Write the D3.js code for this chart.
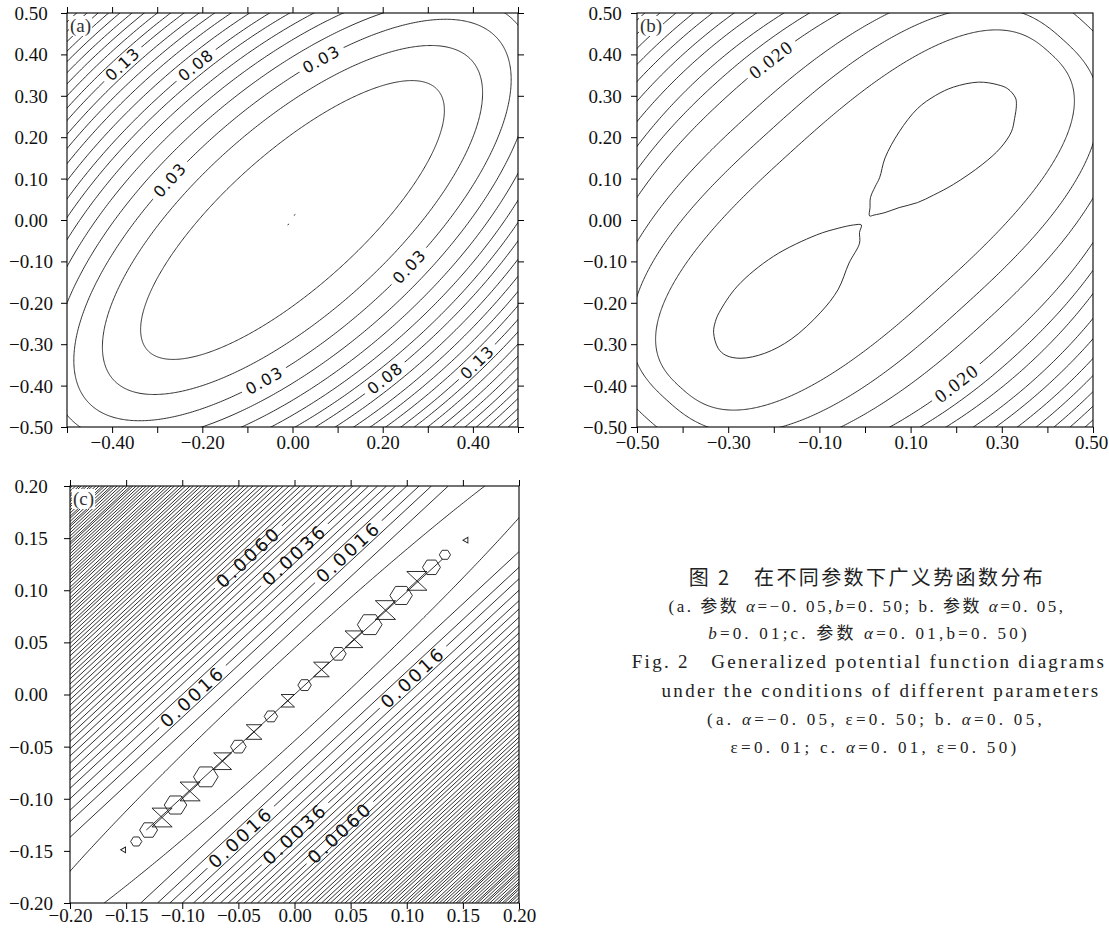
<!DOCTYPE html>
<html>
<head>
<meta charset="utf-8">
<script src="https://cdnjs.cloudflare.com/ajax/libs/d3/7.8.5/d3.min.js"></script>
<style>
  body { margin: 0; background: #fff; }
  svg { display: block; }
</style>
</head>
<body>
<svg id="fig" width="1109" height="934"></svg>
<script>
// ---------- panel (a): alpha = -0.05, eps = 0.50 ----------
const ticksA = [-0.5, -0.4, -0.3, -0.2, -0.1, 0, 0.1, 0.2, 0.3, 0.4, 0.5];
const xLabelsA = [-0.4, -0.2, 0, 0.2, 0.4];
const yLabelsA = ticksA;
// contour levels and the half-widths of each ring, along y = x and across it
const levelsA = [0.01, 0.02, 0.03, 0.04, 0.05, 0.06, 0.07, 0.08, 0.09, 0.10, 0.11,
                 0.12, 0.13, 0.14, 0.15, 0.16, 0.17, 0.18, 0.19, 0.20, 0.21, 0.22];
const majorA = [0.450, 0.554, 0.632, 0.688, 0.735, 0.777, 0.815, 0.848, 0.878, 0.906, 0.932,
                0.956, 0.979, 1.000, 1.021, 1.041, 1.060, 1.078, 1.095, 1.112, 1.128, 1.144];
const minorA = [0.156, 0.220, 0.266, 0.305, 0.339, 0.369, 0.396, 0.420, 0.445, 0.469, 0.491,
                0.512, 0.533, 0.552, 0.571, 0.590, 0.608, 0.626, 0.643, 0.659, 0.676, 0.692];
const labelsA = [
  { text: "0.13", level: 0.13, x: -0.377, y: 0.377 },
  { text: "0.08", level: 0.08, x: -0.214, y: 0.374 },
  { text: "0.03", level: 0.03, x: 0.065, y: 0.386 },
  { text: "0.03", level: 0.03, x: -0.272, y: 0.097 },
  { text: "0.03", level: 0.03, x: 0.256, y: -0.109 },
  { text: "0.03", level: 0.03, x: -0.066, y: -0.381 },
  { text: "0.08", level: 0.08, x: 0.205, y: -0.382 },
  { text: "0.13", level: 0.13, x: 0.394, y: -0.326 }
];
const specksA = [[0.003, 0.011], [-0.011, -0.012]];

// ---------- panel (b): alpha = 0.05, eps = 0.01 ----------
const ticksB = [-0.5, -0.4, -0.3, -0.2, -0.1, 0, 0.1, 0.2, 0.3, 0.4, 0.5];
const xLabelsB = [-0.5, -0.3, -0.1, 0.1, 0.3, 0.5];
const yLabelsB = ticksB;
const levelsB = [0.008, 0.012, 0.016, 0.020, 0.024, 0.028, 0.032, 0.036, 0.040, 0.044, 0.048, 0.052, 0.056];
const majorB = [0.572, 0.615, 0.677, 0.720, 0.760, 0.800, 0.835, 0.870, 0.905, 0.940, 0.970, 1.000, 1.030];
const minorB = [0.231, 0.300, 0.360, 0.425, 0.465, 0.500, 0.535, 0.565, 0.595, 0.622, 0.648, 0.672, 0.695];
// squareness of each ring (2 = plain ellipse)
const shapeB = [2.6, 2.6, 2.4, 2.2, 2.1, 2.0, 2.0, 2.0, 2.0, 2.0, 2.0, 2.0, 2.0];
// lowest contour: two lobes meeting near the origin
const lobeUpB = [[0.010, 0.010], [0.011, 0.030], [0.012, 0.054], [0.022, 0.080], [0.032, 0.102],
  [0.044, 0.150], [0.075, 0.213], [0.115, 0.269], [0.155, 0.301], [0.194, 0.321], [0.249, 0.333],
  [0.290, 0.327], [0.313, 0.317], [0.330, 0.295], [0.332, 0.277], [0.328, 0.245], [0.321, 0.213],
  [0.297, 0.174], [0.257, 0.134], [0.194, 0.086], [0.150, 0.060], [0.115, 0.042], [0.075, 0.030],
  [0.044, 0.018], [0.020, 0.012]];
const lobeDownB = [[-0.008, -0.012], [-0.012, -0.030], [-0.012, -0.056], [-0.035, -0.104],
  [-0.059, -0.168], [-0.098, -0.224], [-0.162, -0.288], [-0.220, -0.322], [-0.272, -0.334],
  [-0.305, -0.327], [-0.322, -0.310], [-0.332, -0.272], [-0.328, -0.245], [-0.320, -0.224],
  [-0.280, -0.160], [-0.201, -0.088], [-0.106, -0.036], [-0.059, -0.020], [-0.025, -0.012]];
const labelsB = [
  { text: "0.020", level: 0.020, x: -0.209, y: 0.392 },
  { text: "0.020", level: 0.020, x: 0.202, y: -0.396 }
];

// ---------- panel (c): alpha = 0.01, eps = 0.50 ----------
const ticksC = [-0.2, -0.15, -0.1, -0.05, 0, 0.05, 0.1, 0.15, 0.2];
const xLabelsC = ticksC;
const yLabelsC = ticksC;
const ringC = { level: 0.0004, a: 0.357, b: 0.0316 };
const stepC = 0.0004;
// distance y - x of each straight contour, from 0.0008 upward
const offsetsC = [0.063, 0.078, 0.089, 0.100, 0.110, 0.118, 0.126, 0.134, 0.141, 0.148, 0.155,
  0.161, 0.167, 0.173, 0.179, 0.184, 0.190, 0.195, 0.200, 0.205, 0.210, 0.215, 0.219, 0.224,
  0.228, 0.232, 0.237, 0.241, 0.245, 0.249, 0.253, 0.257, 0.261, 0.265, 0.268, 0.272, 0.276,
  0.279, 0.283, 0.286, 0.290, 0.293, 0.297, 0.300, 0.303, 0.307, 0.310, 0.313, 0.316, 0.319,
  0.323, 0.326, 0.329, 0.332, 0.335, 0.338, 0.341, 0.344, 0.346, 0.349, 0.352, 0.355, 0.358,
  0.361, 0.363, 0.366, 0.369, 0.371, 0.374, 0.377, 0.380, 0.382, 0.385, 0.387, 0.390, 0.392,
  0.395, 0.398];
const labelsC = [
  { text: "0.0060", level: 0.0060, x: -0.041, y: 0.132 },
  { text: "0.0036", level: 0.0036, x: 0.000, y: 0.134 },
  { text: "0.0016", level: 0.0016, x: 0.048, y: 0.137 },
  { text: "0.0016", level: 0.0016, x: -0.096, y: 0.004 },
  { text: "0.0016", level: 0.0016, x: 0.106, y: 0.016 },
  { text: "0.0016", level: 0.0016, x: -0.047, y: -0.138 },
  { text: "0.0036", level: 0.0036, x: 0.000, y: -0.133 },
  { text: "0.0060", level: 0.0060, x: 0.041, y: -0.133 }
];
// numerical ripple along the diagonal
const chainT = [-0.141, -0.130, -0.118, -0.106, -0.093, -0.079, -0.064, -0.050, -0.036, -0.021,
  -0.006, 0.009, 0.024, 0.039, 0.053, 0.067, 0.081, 0.095, 0.109, 0.122, 0.134];
const chainR = [0.005, 0.008, 0.009, 0.010, 0.009, 0.011, 0.008, 0.007, 0.007, 0.006,
  0.006, 0.006, 0.007, 0.007, 0.008, 0.011, 0.009, 0.010, 0.009, 0.008, 0.005];
const chainKind = ["h", "h", "b", "h", "b", "h", "b", "h", "b", "h",
  "b", "h", "b", "h", "b", "h", "b", "h", "b", "h", "h"];
const chainLine = [[-0.132, -0.130], [0.132, 0.130]];
const marksC = [[-0.152, -0.149], [0.153, 0.148]];

// ---------- caption ----------
const serifCJK = "'Liberation Serif', 'Noto Sans CJK SC', serif";
const captionLines = [
  { x: 867, y: 585, size: 20, family: "'Noto Sans CJK SC', sans-serif", spacing: 2.4,
    parts: [["图 2　在不同参数下广义势函数分布", false]] },
  { x: 867, y: 612, size: 17, family: serifCJK, spacing: 2.5,
    parts: [["(a. 参数 ", false], ["α", true], ["=−0. 05,", false], ["b", true], ["=0. 50; b. 参数 ", false], ["α", true], ["=0. 05,", false]] },
  { x: 869, y: 639, size: 17, family: serifCJK, spacing: 3.2,
    parts: [["b", true], ["=0. 01;c. 参数 ", false], ["α", true], ["=0. 01,b=0. 50)", false]] },
  { x: 869, y: 668, size: 19, family: "'Liberation Serif', serif", spacing: 2.3,
    parts: [["Fig. 2　Generalized potential function diagrams", false]] },
  { x: 881, y: 697, size: 19, family: "'Liberation Serif', serif", spacing: 2.4,
    parts: [["under the conditions of different parameters", false]] },
  { x: 876, y: 725, size: 17, family: "'Liberation Serif', serif", spacing: 3.3,
    parts: [["(a. ", false], ["α", true], ["=−0. 05, ε=0. 50; b. ", false], ["α", true], ["=0. 05,", false]] },
  { x: 875, y: 753, size: 17, family: "'Liberation Serif', serif", spacing: 3.3,
    parts: [["ε=0. 01; c. ", false], ["α", true], ["=0. 01, ε=0. 50)", false]] }
];

// ================= drawing =================
const svg = d3.select("#fig");
const defs = svg.append("defs");
const INK = "#1a1a1a";
let maskCount = 0;

function ring(a, b, p = 2) {
  // closed curve |u/a|^p + |v/b|^p = 1, u along y = x, v across it
  const e = 2 / p;
  return d3.range(0, 721).map(i => {
    const t = i / 720 * 2 * Math.PI;
    const c = Math.cos(t), s = Math.sin(t);
    const u = a * Math.sign(c) * Math.pow(Math.abs(c), e);
    const v = b * Math.sign(s) * Math.pow(Math.abs(s), e);
    return [(u - v) / Math.SQRT2, (u + v) / Math.SQRT2];
  });
}

function fmt(d) {
  const s = d3.format(".2f")(Math.abs(d) < 1e-9 ? 0 : d);
  return s.replace("-", "−");
}

function drawPanel(cfg) {
  const x = d3.scaleLinear().domain(cfg.dom).range([cfg.left, cfg.right]);
  const y = d3.scaleLinear().domain(cfg.dom).range([cfg.bottom, cfg.top]);
  const line = d3.line().x(d => x(d[0])).y(d => y(d[1]));

  const clipId = cfg.id + "-clip";
  defs.append("clipPath").attr("id", clipId).append("rect")
    .attr("x", cfg.left).attr("y", cfg.top)
    .attr("width", cfg.right - cfg.left).attr("height", cfg.bottom - cfg.top);

  const g = svg.append("g").attr("clip-path", `url(#${clipId})`)
    .attr("fill", "none").attr("stroke", INK).attr("stroke-width", 0.9);

  cfg.contours.forEach(c => {
    c.node = g.append("path")
      .attr("d", line.curve(c.curve || d3.curveLinear)(c.pts));
  });
  line.curve(d3.curveLinear);

  if (cfg.extra) cfg.extra(g, x, y, line);

  // frame
  svg.append("rect")
    .attr("x", cfg.left).attr("y", cfg.top)
    .attr("width", cfg.right - cfg.left).attr("height", cfg.bottom - cfg.top)
    .attr("fill", "none").attr("stroke", "#000").attr("stroke-width", 1.1);

  const tickFont = "'Liberation Serif', 'Times New Roman', serif";
  const has = (arr, d) => arr.some(v => Math.abs(v - d) < 1e-9);

  const gx = svg.append("g").attr("transform", `translate(0,${cfg.bottom})`)
    .call(d3.axisBottom(x).tickValues(cfg.ticks).tickSize(6).tickSizeOuter(0)
      .tickFormat(d => has(cfg.xLabels, d) ? fmt(d) : ""));
  gx.selectAll("text").attr("y", cfg.xLabelY).attr("dy", 0);
  if (cfg.lastXShift) gx.selectAll("text").filter(d => Math.abs(d - cfg.dom[1]) < 1e-9).attr("x", cfg.lastXShift);

  const gy = svg.append("g").attr("transform", `translate(${cfg.left},0)`)
    .call(d3.axisLeft(y).tickValues(cfg.ticks).tickSize(6).tickSizeOuter(0)
      .tickFormat(d => has(cfg.yLabels, d) ? fmt(d) : ""));
  gy.selectAll("text").attr("text-anchor", "middle").attr("x", -cfg.yLabelDx).attr("dy", "0.34em");

  [gx, gy].forEach(ax => {
    ax.select(".domain").remove();
    ax.selectAll("line").attr("stroke", "#000");
    ax.selectAll("text").attr("font-family", tickFont).attr("font-size", 19)
      .attr("fill", "#111");
  });

  if (cfg.topTicks) {
    const gt = svg.append("g").attr("transform", `translate(0,${cfg.top})`)
      .call(d3.axisTop(x).tickValues(cfg.ticks).tickSize(6).tickSizeOuter(0).tickFormat(""));
    gt.select(".domain").remove();
    gt.selectAll("line").attr("stroke", "#000");
  }
  if (cfg.rightTicks) {
    const gr = svg.append("g").attr("transform", `translate(${cfg.right},0)`)
      .call(d3.axisRight(y).tickValues(cfg.ticks).tickSize(6).tickSizeOuter(0).tickFormat(""));
    gr.select(".domain").remove();
    gr.selectAll("line").attr("stroke", "#000");
  }

  // contour labels, each cutting a gap in its own line
  const labelG = svg.append("g");
  cfg.labels.forEach(lab => {
    const px = x(lab.x), py = y(lab.y);
    let best = null;
    cfg.contours.filter(c => c.level !== undefined && Math.abs(c.level - lab.level) < 1e-9)
      .forEach(c => {
        const P = c.pts.map(p => [x(p[0]), y(p[1])]);
        for (let i = 0; i < P.length - 1; i++) {
          const [x0, y0] = P[i], [x1, y1] = P[i + 1];
          const dx = x1 - x0, dy = y1 - y0, L2 = dx * dx + dy * dy || 1;
          let t = ((px - x0) * dx + (py - y0) * dy) / L2;
          t = Math.max(0, Math.min(1, t));
          const qx = x0 + t * dx, qy = y0 + t * dy;
          const dist = (qx - px) ** 2 + (qy - py) ** 2;
          if (!best || dist < best.dist) best = { dist, qx, qy, ang: Math.atan2(dy, dx), c };
        }
      });
    if (!best) return;
    let deg = best.ang * 180 / Math.PI;
    if (deg > 90) deg -= 180;
    if (deg < -90) deg += 180;

    const txt = labelG.append("text")
      .attr("transform", `translate(${best.qx},${best.qy}) rotate(${deg})`)
      .attr("text-anchor", "middle").attr("dy", "0.36em")
      .attr("font-family", cfg.labelFont).attr("font-size", cfg.labelSize)
      .attr("letter-spacing", cfg.labelSpacing).attr("fill", "#111")
      .text(lab.text);
    const w = txt.node().getComputedTextLength() + 10;

    const c = best.c;
    if (!c.mask) {
      c.mask = defs.append("mask").attr("id", "m" + (maskCount++))
        .attr("maskUnits", "userSpaceOnUse")
        .attr("x", 0).attr("y", 0).attr("width", 1109).attr("height", 934);
      c.mask.append("rect").attr("width", 1109).attr("height", 934).attr("fill", "#fff");
      c.node.attr("mask", `url(#${c.mask.attr("id")})`);
    }
    c.mask.append("rect")
      .attr("x", -w / 2).attr("y", -cfg.labelSize * 0.5).attr("width", w).attr("height", cfg.labelSize)
      .attr("transform", `translate(${best.qx},${best.qy}) rotate(${deg})`)
      .attr("fill", "#000");
  });

  // panel tag
  const tag = svg.append("text").attr("x", cfg.left + 3).attr("y", cfg.top + 19)
    .attr("font-family", tickFont).attr("font-size", 19).attr("fill", "#333").text(cfg.tag);
  const bb = tag.node().getBBox();
  svg.insert("rect", () => tag.node())
    .attr("x", bb.x - 1).attr("y", bb.y + 1).attr("width", bb.width + 2).attr("height", bb.height - 2)
    .attr("fill", "#fff");
}

// ---- panel (a)
drawPanel({
  id: "pa", left: 67, right: 518, top: 13, bottom: 427, dom: [-0.5, 0.5],
  ticks: ticksA, xLabels: xLabelsA, yLabels: yLabelsA, xLabelY: 22, yLabelDx: 36,
  topTicks: true, rightTicks: true, tag: "(a)",
  labelFont: "'DejaVu Sans', sans-serif", labelSize: 16, labelSpacing: 1.2,
  contours: levelsA.map((lv, i) => ({ level: lv, pts: ring(majorA[i], minorA[i]) })),
  labels: labelsA,
  extra: (g, x, y) => {
    g.selectAll(".speck").data(specksA).enter().append("line")
      .attr("x1", d => x(d[0])).attr("y1", d => y(d[1]))
      .attr("x2", d => x(d[0]) + 1.5).attr("y2", d => y(d[1]) - 1);
  }
});

// ---- panel (b)
drawPanel({
  id: "pb", left: 637, right: 1093, top: 13, bottom: 427, dom: [-0.5, 0.5],
  ticks: ticksB, xLabels: xLabelsB, yLabels: yLabelsB, xLabelY: 22, yLabelDx: 32,
  lastXShift: -2,
  topTicks: false, rightTicks: false, tag: "(b)",
  labelFont: "'Liberation Serif', serif", labelSize: 19, labelSpacing: 1.5,
  contours: [
    { pts: lobeUpB, curve: d3.curveCatmullRomClosed },
    { pts: lobeDownB, curve: d3.curveCatmullRomClosed }
  ].concat(levelsB.map((lv, i) => ({ level: lv, pts: ring(majorB[i], minorB[i], shapeB[i]) }))),
  labels: labelsB
});

// ---- panel (c)
const contoursC = [{ level: ringC.level, pts: ring(ringC.a, ringC.b) }];
offsetsC.forEach((d, i) => {
  const lv = +(stepC * (i + 2)).toFixed(6);
  contoursC.push({ level: lv, pts: [[-0.2, -0.2 + d], [0.2 - d, 0.2]] });
  contoursC.push({ level: lv, pts: [[-0.2 + d, -0.2], [0.2, 0.2 - d]] });
});
drawPanel({
  id: "pc", left: 70, right: 519, top: 486, bottom: 903, dom: [-0.2, 0.2],
  ticks: ticksC, xLabels: xLabelsC, yLabels: yLabelsC, xLabelY: 19, yLabelDx: 39,
  topTicks: true, rightTicks: false, tag: "(c)",
  labelFont: "'DejaVu Sans', sans-serif", labelSize: 18, labelSpacing: 3,
  contours: contoursC,
  labels: labelsC,
  extra: (g, x, y, line) => {
    g.append("path").attr("d", line(chainLine));
    chainT.forEach((t, i) => {
      const r = chainR[i];
      if (chainKind[i] === "h") {
        const pts = d3.range(7).map(j => {
          const a = j * Math.PI / 3;
          return [t + r * Math.cos(a), t + r * Math.sin(a)];
        });
        g.append("path").attr("d", line(pts));
      } else {
        // bow tie: top edge, diagonal, bottom edge, diagonal
        const bow = [[t - r, t + r], [t + r, t + r], [t - r, t - r], [t + r, t - r], [t - r, t + r]];
        g.append("path").attr("d", line(bow));
      }
    });
    g.selectAll(".mark").data(marksC).enter().append("path")
      .attr("transform", d => `translate(${x(d[0])},${y(d[1])}) rotate(30)`)
      .attr("d", d3.symbol(d3.symbolTriangle, 14));
  }
});

// ---- caption
captionLines.forEach(l => {
  const t = svg.append("text").attr("x", l.x).attr("y", l.y)
    .attr("text-anchor", "middle").attr("font-family", l.family)
    .attr("font-size", l.size).attr("letter-spacing", l.spacing).attr("fill", "#222");
  l.parts.forEach(p => {
    t.append("tspan").attr("font-style", p[1] ? "italic" : "normal").text(p[0]);
  });
});
</script>
</body>
</html>
